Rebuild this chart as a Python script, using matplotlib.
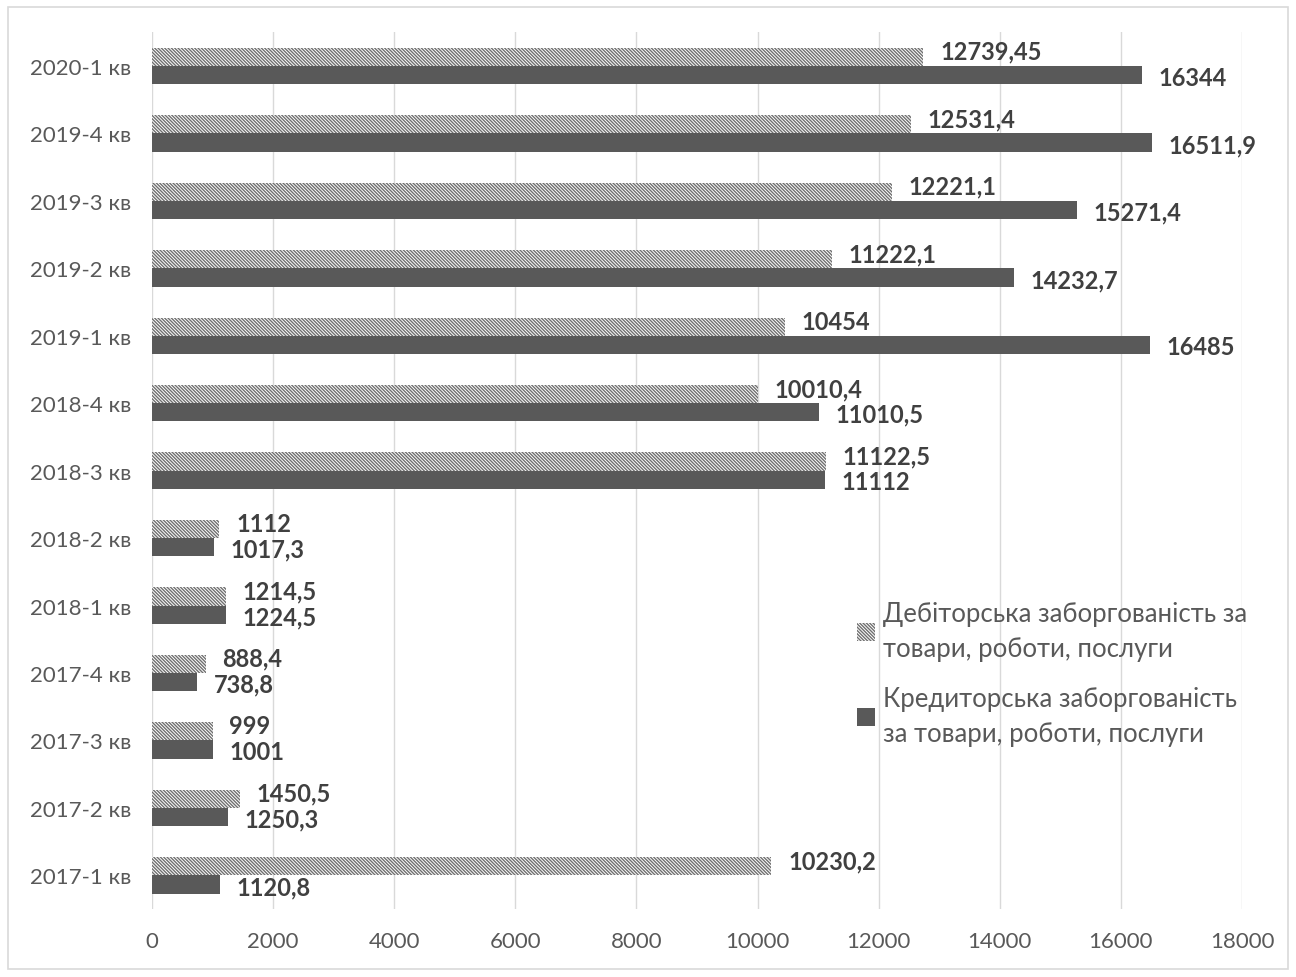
import matplotlib.pyplot as plt
import matplotlib.patches as mpatches
import numpy as np

# quarters, bottom to top
quarters = ['2017-1 кв', '2017-2 кв', '2017-3 кв', '2017-4 кв',
            '2018-1 кв', '2018-2 кв', '2018-3 кв', '2018-4 кв',
            '2019-1 кв', '2019-2 кв', '2019-3 кв', '2019-4 кв', '2020-1 кв']

# receivables (hatched)
debit = [10230.2, 1450.5, 999, 888.4, 1214.5, 1112, 11122.5,
         10010.4, 10454, 11222.1, 12221.1, 12531.4, 12739.45]
debit_labels = ['10230,2', '1450,5', '999', '888,4', '1214,5', '1112', '11122,5',
                '10010,4', '10454', '11222,1', '12221,1', '12531,4', '12739,45']

# payables (solid)
credit = [1120.8, 1250.3, 1001, 738.8, 1224.5, 1017.3, 11112,
          11010.5, 16485, 14232.7, 15271.4, 16511.9, 16344]
credit_labels = ['1120,8', '1250,3', '1001', '738,8', '1224,5', '1017,3', '11112',
                 '11010,5', '16485', '14232,7', '15271,4', '16511,9', '16344']

legend_names = ['Дебіторська заборгованість за\nтовари, роботи, послуги',
                'Кредиторська заборгованість\nза товари, роботи, послуги']

plt.rcParams['font.family'] = ['Lato', 'DejaVu Sans']
plt.rcParams['hatch.linewidth'] = 1.0
plt.rcParams['hatch.color'] = '#707070'

fig = plt.figure(figsize=(12.96, 9.78), dpi=100)
ax = fig.add_axes([0.1173, 0.0695, 0.841, 0.8965])

y = np.arange(len(quarters))
h = 0.27

ax.barh(y + h / 2, debit, height=h, color='white', edgecolor='#707070',
        hatch='\\' * 10, linewidth=0, label=legend_names[0])
ax.barh(y - h / 2, credit, height=h, color='#595959', label=legend_names[1])

for yi, v, s in zip(y, debit, debit_labels):
    ax.annotate(s, (v, yi + h / 2), xytext=(12, 4), textcoords='offset points',
                va='center', ha='left', fontsize=17, fontweight='bold', color='#404040')
for yi, v, s in zip(y, credit, credit_labels):
    ax.annotate(s, (v, yi - h / 2), xytext=(12, -1.5), textcoords='offset points',
                va='center', ha='left', fontsize=17, fontweight='bold', color='#404040')

ax.set_xlim(0, 18000)
ax.set_ylim(-0.5, len(quarters) - 0.5)
ax.set_xticks(np.arange(0, 18001, 2000))
ax.set_yticks(y)
ax.set_yticklabels(quarters)
ax.tick_params(length=0, labelsize=16, colors='#595959', pad=15)
ax.tick_params(axis='x', pad=16)
ax.grid(axis='x', color='#d9d9d9', linewidth=1)
ax.set_axisbelow(True)
for sp in ax.spines.values():
    sp.set_visible(False)

leg = ax.legend(loc='upper left', bbox_to_anchor=(0.626, 0.378),
                frameon=False, fontsize=18.5, labelcolor='#595959', handlelength=0.7,
                handleheight=0.7, handletextpad=0.3, labelspacing=1.0)
for t in leg.get_texts():
    t.set_linespacing(1.5)

# light border around the chart
fig.patches.append(mpatches.Rectangle((0.006, 0.008), 0.988, 0.984, transform=fig.transFigure,
                                      fill=False, edgecolor='#d9d9d9', linewidth=1.2))

fig.savefig('out.png', dpi=100)
